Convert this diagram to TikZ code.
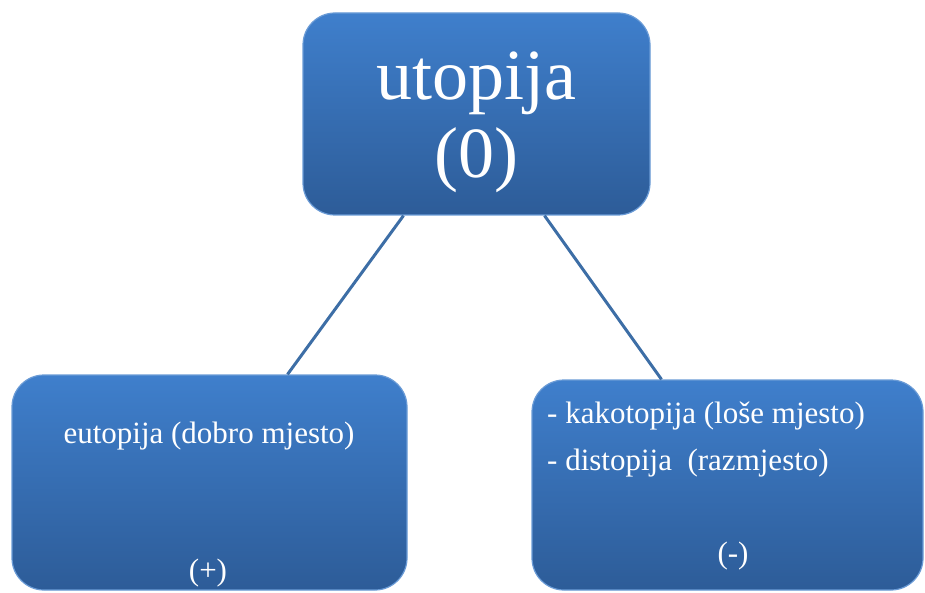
\documentclass[tikz,border=0pt]{standalone}
\usepackage{fontspec}
\setmainfont{Liberation Serif}
\usepackage{xcolor}
\usepackage{tikz}
\usetikzlibrary{positioning}

\definecolor{boxtop}{HTML}{3F7FCC}
\definecolor{boxbottom}{HTML}{2D5C98}
\definecolor{boxedge}{HTML}{6A9BD6}
\definecolor{linkblue}{HTML}{3D6EA6}

\begin{document}
\begin{tikzpicture}[x=1pt, y=1pt,
    topic/.style = {rectangle, rounded corners=32pt, draw=boxedge, line width=1.2pt,
                    top color=boxtop, bottom color=boxbottom,
                    inner sep=0pt},
    bigtext/.style = {text=white, align=center, inner sep=0pt,
                      font=\fontsize{72}{78}\selectfont},
    smalltext/.style = {text=white, align=left, inner sep=0pt,
                        font=\fontsize{31}{47}\selectfont},
    link/.style = {draw=linkblue, line width=3pt}]
  \useasboundingbox (0,0) rectangle (925,592);

  \node (utopija) [topic, minimum width=347pt, minimum height=202pt] at (476.5,478) {};
  \node (eutopija) [topic, minimum width=395pt, minimum height=215pt] at (209.5,109.5) {};
  \node (kakotopija) [topic, minimum width=391pt, minimum height=210pt] at (727.5,107) {};

  \node (utxt) [bigtext, anchor=base] at (476.5,414) {utopija\\(0)};
  \node (eutxt) [smalltext, anchor=base] at (209,149) {eutopija (dobro mjesto)};
  \node (plus) [smalltext, anchor=base] at (208,12) {(+)};
  \node (katxt) [smalltext, anchor=base west] at (547,122) {- kakotopija (loše mjesto)\\- distopija~~(razmjesto)};
  \node (minus) [smalltext, anchor=base] at (733,29) {(-)};

  \path[link]
    ([xshift=-73pt]utopija.south) edge ([xshift=78pt]eutopija.north)
    ([xshift=68pt]utopija.south) edge ([xshift=-66pt]kakotopija.north);
\end{tikzpicture}
\end{document}
